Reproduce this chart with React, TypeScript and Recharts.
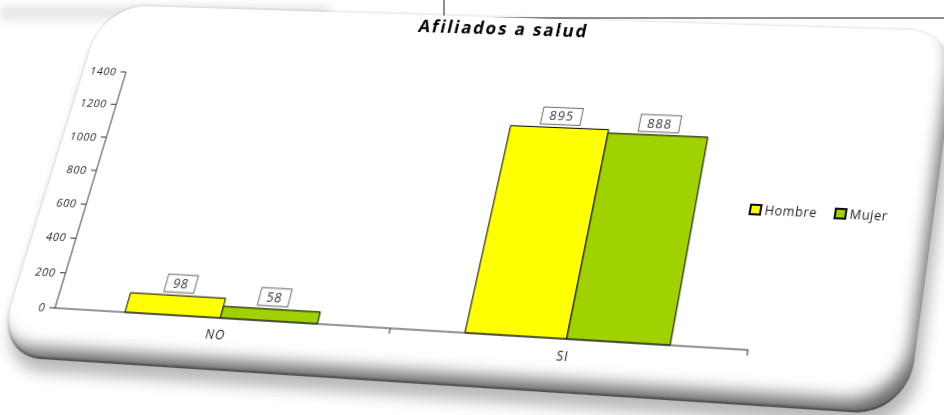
import React from 'react';
import { BarChart, Bar, XAxis, YAxis, Legend, LabelList } from 'recharts';

// ---- data ----
const categories = ['NO', 'SI'];
const hombreValues = [110, 1170];
const mujerValues = [65, 1150];
const hombreLabels = ['98', '895'];
const mujerLabels = ['58', '888'];
const yTicks = [0, 200, 400, 600, 800, 1000, 1200, 1400];
const seriesNames = ['Hombre', 'Mujer'];
const seriesColors = ['#FFFF00', '#9FD200'];
const chartTitle = 'Afiliados a salud';

const data = categories.map((c, i) => ({
  name: c,
  hombre: hombreValues[i],
  mujer: mujerValues[i],
  hombreLabel: hombreLabels[i],
  mujerLabel: mujerLabels[i],
}));

// ---- layout (flat plane, later projected) ----
const FONT = "'Open Sans', 'DejaVu Sans', sans-serif";
const FW = 930;
const FH = 385;
const PL = 60;
const PR = 750;
const PT = 80;
const PB = 320;
const BAND = (PR - PL) / categories.length;

// where the plot corners land in the page (origin, x-end, top-right, y-top)
const QUAD: [number, number][] = [
  [55, 308],
  [748, 350],
  [790, 97],
  [126, 72],
];

function projectionMatrix(): string {
  const [[x0, y0], [x1, y1], [x2, y2], [x3, y3]] = QUAD;
  const sx = x0 - x1 + x2 - x3;
  const sy = y0 - y1 + y2 - y3;
  const dx1 = x1 - x2, dx2 = x3 - x2, dy1 = y1 - y2, dy2 = y3 - y2;
  const det = dx1 * dy2 - dx2 * dy1;
  const g = (sx * dy2 - dx2 * sy) / det;
  const h = (dx1 * sy - sx * dy1) / det;
  const a = x1 - x0 + g * x1, b = x3 - x0 + h * x3, c = x0;
  const d = y1 - y0 + g * y1, e = y3 - y0 + h * y3, f = y0;
  const PW = PR - PL, PH = PB - PT;
  const ax = a / PW, ay = -b / PH, ac = c - (a * PL) / PW + (b * PB) / PH;
  const bx = d / PW, by = -e / PH, bc = f - (d * PL) / PW + (e * PB) / PH;
  const wx = g / PW, wy = -h / PH, wc = 1 - (g * PL) / PW + (h * PB) / PH;
  const m = [ax, bx, 0, wx, ay, by, 0, wy, 0, 0, 1, 0, ac, bc, 0, wc];
  return `matrix3d(${m.map((v) => v.toFixed(8)).join(',')})`;
}

const BoxLabel = (props: any) => {
  const { x, y, width, value } = props;
  const txt = String(value);
  const w = txt.length * 9 + 13;
  const hgt = 17;
  const cx = x + width / 2;
  const top = y - hgt - 3;
  return (
    <g>
      <rect x={cx - w / 2} y={top} width={w} height={hgt} fill="#fff" stroke="#6b6b6b" strokeWidth={1} />
      <text x={cx} y={top + 13} textAnchor="middle" fontSize={12.5} fontFamily={FONT} fill="#333" letterSpacing={1}>
        {txt}
      </text>
    </g>
  );
};

const CategoryTick = (props: any) => {
  const { x, y, payload } = props;
  const axisY = y - 8;
  return (
    <g>
      <line x1={x + BAND / 2} x2={x + BAND / 2} y1={axisY} y2={axisY + 5} stroke="#333" strokeWidth={1} />
      <text x={x} y={axisY + 20} textAnchor="middle" fontSize={12} fontFamily={FONT} fill="#222" letterSpacing={1}>
        {payload.value}
      </text>
    </g>
  );
};

const ValueTick = (props: any) => {
  const { x, y, payload } = props;
  return (
    <text x={x} y={y + 4} textAnchor="end" fontSize={11.5} fontFamily={FONT} fill="#222" letterSpacing={0.8}>
      {payload.value}
    </text>
  );
};

const renderLegend = () => (
  <div style={{ display: 'flex', alignItems: 'center', fontFamily: FONT, fontSize: 12, color: '#222' }}>
    {seriesNames.map((n, i) => (
      <div key={n} style={{ display: 'flex', alignItems: 'center', marginRight: i === 0 ? 16 : 0 }}>
        <span
          style={{
            display: 'inline-block',
            width: 8,
            height: 7,
            background: seriesColors[i],
            border: '2px solid #111',
            marginRight: 3,
          }}
        />
        <span style={{ letterSpacing: 0.6 }}>{n}</span>
      </div>
    ))}
  </div>
);

export default function App() {
  return (
    <div style={{ position: 'absolute', left: 0, top: 0, width: 944, height: 415, overflow: 'hidden', background: '#fff' }}>
      {/* faint streak top-left */}
      <div style={{ position: 'absolute', left: 0, top: 6, width: 330, height: 14, background: '#e6e6e6', filter: 'blur(5px)' }} />
      {/* document frame top-right */}
      <div
        style={{
          position: 'absolute',
          left: 443,
          top: -2,
          width: 520,
          height: 19,
          borderLeft: '2px solid #8f8f8f',
          borderBottom: '2px solid #8f8f8f',
        }}
      />
      <div
        style={{
          position: 'absolute',
          left: 0,
          top: 0,
          width: FW,
          height: FH,
          transformOrigin: '0 0',
          transform: projectionMatrix(),
        }}
      >
        <div
          style={{
            position: 'absolute',
            left: 13,
            top: 9,
            width: 890,
            height: 360,
            borderRadius: 48,
            background: '#fff',
            boxShadow:
              'inset -12px -18px 16px -8px rgba(0,0,0,0.6), inset 0 -3px 2px -1px rgba(0,0,0,0.35), 6px 12px 14px rgba(0,0,0,0.28), -1px -1px 3px rgba(0,0,0,0.12)',
          }}
        />
        <div
          style={{
            position: 'absolute',
            left: 249,
            top: 8,
            width: 400,
            lineHeight: '24px',
            textAlign: 'center',
            fontFamily: FONT,
            fontWeight: 700,
            fontSize: 17.5,
            letterSpacing: 2,
            color: '#000',
          }}
        >
          {chartTitle}
        </div>
        <div style={{ position: 'absolute', left: 0, top: 0 }}>
          <BarChart
            width={FW}
            height={FH}
            data={data}
            margin={{ top: PT, right: FW - PR, bottom: FH - PB - 30, left: 0 }}
            barCategoryGap="21.4%"
            barGap={0}
          >
            <XAxis
              dataKey="name"
              height={30}
              axisLine={{ stroke: '#333', strokeWidth: 1 }}
              tickLine={false}
              tick={<CategoryTick />}
              interval={0}
            />
            <YAxis
              width={PL}
              domain={[0, 1400]}
              ticks={yTicks}
              axisLine={{ stroke: '#333', strokeWidth: 1 }}
              tickLine={{ stroke: '#333', strokeWidth: 1 }}
              tickSize={6}
              tickMargin={4}
              tick={<ValueTick />}
              interval={0}
            />
            <Legend
              content={renderLegend}
              layout="horizontal"
              verticalAlign="middle"
              align="center"
              wrapperStyle={{ left: 729, top: 182, width: 160 }}
            />
            <Bar dataKey="hombre" name={seriesNames[0]} fill={seriesColors[0]} stroke="#000" strokeWidth={1} isAnimationActive={false}>
              <LabelList dataKey="hombreLabel" content={<BoxLabel />} />
            </Bar>
            <Bar dataKey="mujer" name={seriesNames[1]} fill={seriesColors[1]} stroke="#000" strokeWidth={1} isAnimationActive={false}>
              <LabelList dataKey="mujerLabel" content={<BoxLabel />} />
            </Bar>
          </BarChart>
        </div>
      </div>
    </div>
  );
}
